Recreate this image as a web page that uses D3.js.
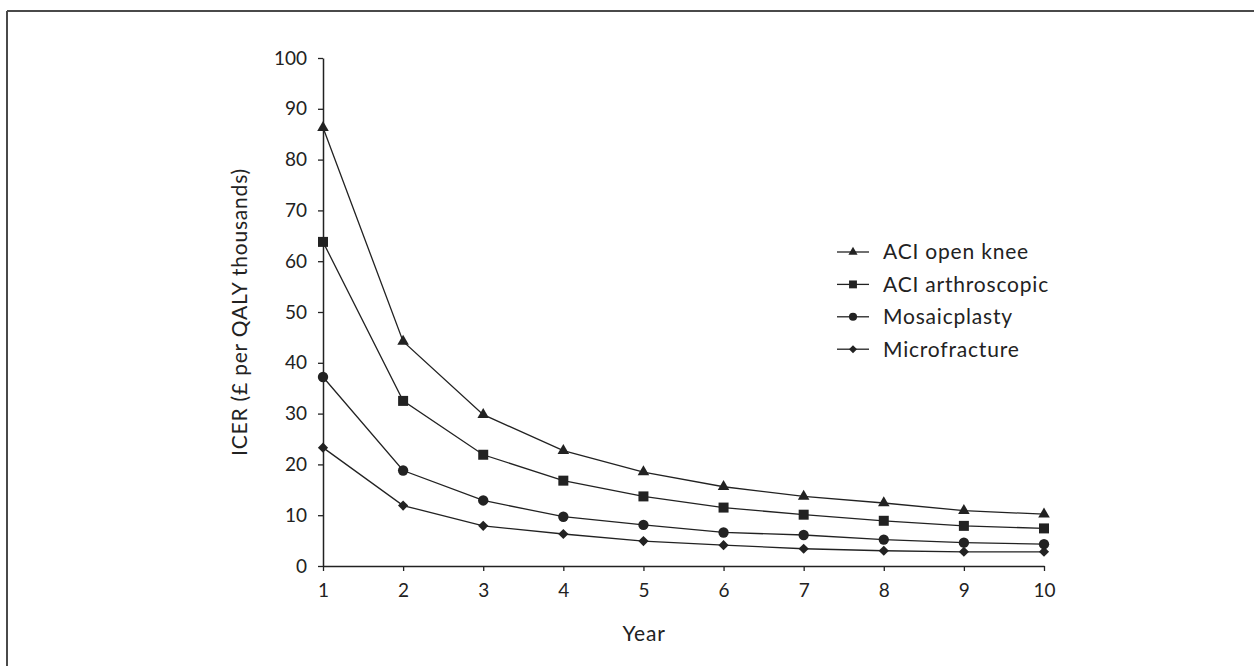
<!DOCTYPE html>
<html lang="en">
  <head>
    <meta charset="UTF-8" />
    <title>ICER by year</title>
    <script src="https://d3js.org/d3.v7.min.js"></script>
    <style>
      html, body { margin: 0; padding: 0; background: #fff; }
      svg { display: block; font-family: Lato, "Open Sans", sans-serif; }
      .label { font-size: 21px; letter-spacing: 0.8px; }
    </style>
  </head>
  <body>
    <svg id="chart" width="1254" height="666"></svg>
    <script>
      // data
      const years = [1, 2, 3, 4, 5, 6, 7, 8, 9, 10];
      const seriesNames = ["ACI open knee", "ACI arthroscopic", "Mosaicplasty", "Microfracture"];
      const aciOpenKnee = [86.3, 44.2, 29.8, 22.7, 18.5, 15.6, 13.7, 12.4, 10.9, 10.2];
      const aciArthroscopic = [63.8, 32.5, 21.9, 16.8, 13.7, 11.5, 10.1, 8.9, 7.9, 7.4];
      const mosaicplasty = [37.2, 18.8, 12.9, 9.7, 8.1, 6.6, 6.1, 5.2, 4.6, 4.3];
      const microfracture = [23.3, 11.9, 7.9, 6.3, 4.9, 4.1, 3.4, 3.0, 2.8, 2.8];
      const yTicks = [0, 10, 20, 30, 40, 50, 60, 70, 80, 90, 100];

      const series = [
        { name: seriesNames[0], values: aciOpenKnee, shape: "triangle" },
        { name: seriesNames[1], values: aciArthroscopic, shape: "square" },
        { name: seriesNames[2], values: mosaicplasty, shape: "circle" },
        { name: seriesNames[3], values: microfracture, shape: "diamond" }
      ];

      const svg = d3.select("#chart");
      const ink = "#222";

      // frame (top + left only)
      svg.append("line").attr("x1", 7).attr("y1", 11).attr("x2", 1254).attr("y2", 11)
        .attr("stroke", "#4a4a4a").attr("stroke-width", 2);
      svg.append("line").attr("x1", 7).attr("y1", 11).attr("x2", 7).attr("y2", 666)
        .attr("stroke", "#4a4a4a").attr("stroke-width", 2);

      const x = d3.scaleLinear().domain([1, 10]).range([323, 1044]);
      const y = d3.scaleLinear().domain([0, 100]).range([566, 58]);

      // axes
      const xAxis = svg.append("g")
        .attr("transform", `translate(0,${y(0)})`)
        .call(d3.axisBottom(x).tickValues(years).tickFormat(d3.format("d"))
          .tickSize(5).tickSizeOuter(0).tickPadding(13));
      const yAxis = svg.append("g")
        .attr("transform", `translate(${x(1)},0)`)
        .call(d3.axisLeft(y).tickValues(yTicks).tickSize(5).tickSizeOuter(0).tickPadding(11));

      [xAxis, yAxis].forEach(g => {
        g.select(".domain").attr("stroke", ink).attr("stroke-width", 1.5);
        g.selectAll(".tick line").attr("stroke", ink).attr("stroke-width", 1.3);
        g.selectAll(".tick text").attr("fill", ink).style("font-size", "19px")
          .style("font-family", "Lato, 'Open Sans', sans-serif");
      });

      // axis titles
      svg.append("text")
        .attr("class", "label")
        .attr("x", 644).attr("y", 641)
        .attr("text-anchor", "middle")
        .attr("fill", ink)
        .text("Year");
      svg.append("text")
        .attr("class", "label")
        .attr("transform", "translate(247,312) rotate(-90)")
        .attr("text-anchor", "middle")
        .attr("fill", ink)
        .text("ICER (£ per QALY thousands)");

      // marker shapes
      const symbolFor = (shape, big) => {
        const s = big ? 1 : 0.62;
        if (shape === "triangle") return d3.symbol(d3.symbolTriangle, 58 * s)();
        if (shape === "square") return d3.symbol(d3.symbolSquare, 100 * s)();
        if (shape === "circle") return d3.symbol(d3.symbolCircle, 84 * s)();
        return d3.symbol(d3.symbolSquare, 52 * s)();
      };

      const line = d3.line()
        .x((d, i) => x(years[i]))
        .y(d => y(d));

      const g = svg.append("g");
      series.forEach(s => {
        g.append("path")
          .attr("d", line(s.values))
          .attr("fill", "none")
          .attr("stroke", ink)
          .attr("stroke-width", 1.3);
        g.selectAll(null)
          .data(s.values)
          .join("path")
          .attr("d", symbolFor(s.shape, true))
          .attr("transform", (d, i) =>
            `translate(${x(years[i])},${y(d)})` + (s.shape === "diamond" ? " rotate(45)" : ""))
          .attr("fill", ink);
      });

      // legend
      const legend = svg.append("g").attr("transform", "translate(837,252)");
      const rows = legend.selectAll("g")
        .data(series)
        .join("g")
        .attr("transform", (d, i) => `translate(0,${i * 32.4})`);
      rows.append("line")
        .attr("x1", 0).attr("x2", 32).attr("y1", 0).attr("y2", 0)
        .attr("stroke", ink).attr("stroke-width", 1.3);
      rows.append("path")
        .attr("d", d => symbolFor(d.shape, false))
        .attr("transform", d => "translate(16,0)" + (d.shape === "diamond" ? " rotate(45)" : ""))
        .attr("fill", ink);
      rows.append("text")
        .attr("class", "label")
        .attr("x", 46).attr("y", 0).attr("dy", "0.35em")
        .attr("fill", ink)
        .text(d => d.name);
    </script>
  </body>
</html>
